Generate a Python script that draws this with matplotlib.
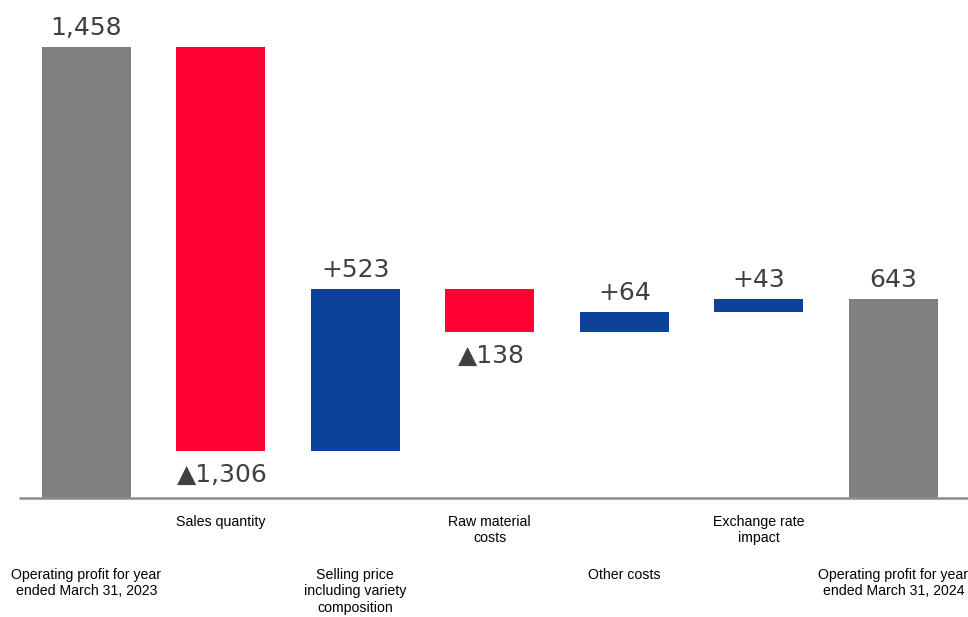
import matplotlib
matplotlib.use("Agg")
import matplotlib.pyplot as plt
from matplotlib.transforms import blended_transform_factory

# Operating profit bridge (units: 100 million yen)
categories = [
    "Operating profit for year\nended March 31, 2023",
    "Sales quantity",
    "Selling price\nincluding variety\ncomposition",
    "Raw material\ncosts",
    "Other costs",
    "Exchange rate\nimpact",
    "Operating profit for year\nended March 31, 2024",
]
start_value = 1458
changes = [-1306, 523, -138, 64, 43]
end_value = 643

GRAY = "#808080"
RED = "#FF0033"
BLUE = "#0C4299"
LABEL_COLOR = "#404040"

fig = plt.figure(figsize=(9.68, 6.17), dpi=100)
ax = fig.add_axes([19 / 968, (617 - 498) / 617, 1 - 19 / 968, 498 / 617])
ax.set_xlim(-0.5, 6.555)
ax.set_ylim(0, 1610)
ax.axis("off")

width = 0.66
bar_kw = dict(width=width, linewidth=0)

# first total
ax.bar(0, start_value, bottom=0, color=GRAY, **bar_kw)
ax.annotate(f"{start_value:,}", (0, start_value), xytext=(0, 5),
            textcoords="offset points", ha="center", va="bottom",
            fontsize=18, color=LABEL_COLOR)

# intermediate changes
level = start_value
for i, d in enumerate(changes, start=1):
    bottom = level if d >= 0 else level + d
    ax.bar(i, abs(d), bottom=bottom, color=BLUE if d >= 0 else RED, **bar_kw)
    if d >= 0:
        ax.annotate(f"+{d:,}", (i, level + d), xytext=(0, 5),
                    textcoords="offset points", ha="center", va="bottom",
                    fontsize=18, color=LABEL_COLOR)
    else:
        ax.annotate(f"▲{-d:,}", (i, level + d), xytext=(1, -8.5),
                    textcoords="offset points", ha="center", va="top",
                    fontsize=18, color=LABEL_COLOR)
    level += d

# closing total
ax.bar(6, end_value, bottom=0, color=GRAY, **bar_kw)
ax.annotate(f"{end_value:,}", (6, end_value), xytext=(0, 5),
            textcoords="offset points", ha="center", va="bottom",
            fontsize=18, color=LABEL_COLOR)

# baseline
ax.plot([-0.5, 6.555], [0, 0], color="#8C8C8C", linewidth=1.8,
        solid_capstyle="butt", clip_on=False)

# category labels in two staggered rows
trans = blended_transform_factory(ax.transData, fig.transFigure)
for i, name in enumerate(categories):
    y_px = 568 if i % 2 == 0 else 515
    ax.text(i, 1 - y_px / 617, name, transform=trans, ha="center", va="top",
            fontsize=10.2, family="Liberation Sans", color="black",
            linespacing=1.22)

fig.savefig("out.png", dpi=100)
